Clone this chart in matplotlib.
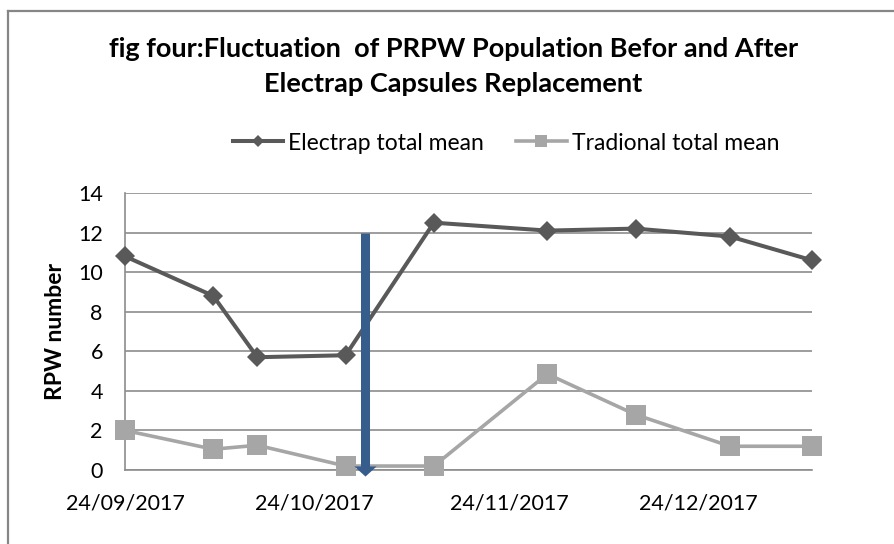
import matplotlib
matplotlib.use("Agg")
import matplotlib.pyplot as plt
import matplotlib.dates as mdates
from matplotlib.lines import Line2D
from datetime import datetime

# sampling dates
dates = ["2017-09-24", "2017-10-08", "2017-10-15", "2017-10-29", "2017-11-12",
         "2017-11-30", "2017-12-14", "2017-12-29", "2018-01-11"]
electrap_mean = [10.8, 8.8, 5.7, 5.8, 12.5, 12.1, 12.2, 11.8, 10.6]
traditional_mean = [2.0, 1.05, 1.25, 0.2, 0.2, 4.85, 2.8, 1.2, 1.2]
replacement_date = "2017-11-01"
replacement_top = 12

title_lines = ["fig four:Fluctuation  of PRPW Population Befor and After",
               "Electrap Capsules Replacement"]
y_ticks = [0, 2, 4, 6, 8, 10, 12, 14]

plt.rcParams['font.family'] = ['Lato', 'DejaVu Sans']

x = [datetime.strptime(d, "%Y-%m-%d") for d in dates]
x_rep = datetime.strptime(replacement_date, "%Y-%m-%d")

fig = plt.figure(figsize=(8.94, 5.44), dpi=100)
ax = fig.add_axes([125/894, 74/544, 687/894, 277/544])

dark = "#595959"
light = "#a6a6a6"
grid_c = "#8c8c8c"

ax.plot(x, traditional_mean, color=light, lw=2.6, marker="s", ms=14,
        mew=0, clip_on=False, zorder=3)
ax.plot(x, electrap_mean, color=dark, lw=2.9, marker="D", ms=10.5,
        mew=0, clip_on=False, zorder=4)

# replacement arrow: shaft + flat head
ax.plot([x_rep, x_rep], [replacement_top, -0.05], color="#375d8c", lw=6.5,
        solid_capstyle="butt", clip_on=False, zorder=5)
ax.plot([x_rep], [-0.05], color="#375d8c", ls="none", ms=16, mew=0,
        marker=[(-1.1, 0.5), (1.1, 0.5), (0, -0.5)], clip_on=False, zorder=5)

ax.set_xlim(x[0], x[-1])
ax.set_ylim(0, 14)
ax.set_yticks(y_ticks)
ax.xaxis.set_major_locator(mdates.DayLocator(bymonthday=24))
ax.xaxis.set_major_formatter(mdates.DateFormatter("%d/%m/%Y"))
ax.tick_params(axis="both", length=0, labelsize=15.5, colors="black")
ax.tick_params(axis="y", pad=16)
ax.tick_params(axis="x", pad=17)

ax.grid(axis="y", color=grid_c, lw=1.2)
ax.set_axisbelow(True)
for s in ["top", "right"]:
    ax.spines[s].set_visible(False)
for s in ["left", "bottom"]:
    ax.spines[s].set_color(grid_c)
    ax.spines[s].set_linewidth(1.2)

fig.text(55/894, 1 - 331/544, "RPW number", rotation=90, ha="center",
         va="center", fontsize=16.5, fontweight="bold")

fig.text(453.5/894, 1 - 57/544, title_lines[0], ha="center", va="baseline",
         fontsize=19.5, fontweight="bold")
fig.text(453.5/894, 1 - 92/544, title_lines[1], ha="center", va="baseline",
         fontsize=19.5, fontweight="bold")

handles = [Line2D([], [], color=dark, lw=2.9, marker="D", ms=6, mew=0),
           Line2D([], [], color=light, lw=2.6, marker="s", ms=8, mew=0)]
fig.legend(handles, ["Electrap total mean", "Tradional total mean"],
           loc="center", bbox_to_anchor=(506/894, 1 - 143/544), ncol=2,
           frameon=False, fontsize=16.5, handlelength=2.2, handletextpad=0.22,
           columnspacing=1.4, borderpad=0, borderaxespad=0)

# chart border (only left and top edges are inside the picture)
fig.add_artist(Line2D([8/894, 8/894], [0, 1 - 11/544], color="#868686",
                      lw=1.6, transform=fig.transFigure))
fig.add_artist(Line2D([8/894, 1], [1 - 11/544, 1 - 11/544], color="#868686",
                      lw=1.6, transform=fig.transFigure))

fig.savefig("out.png", dpi=100)
